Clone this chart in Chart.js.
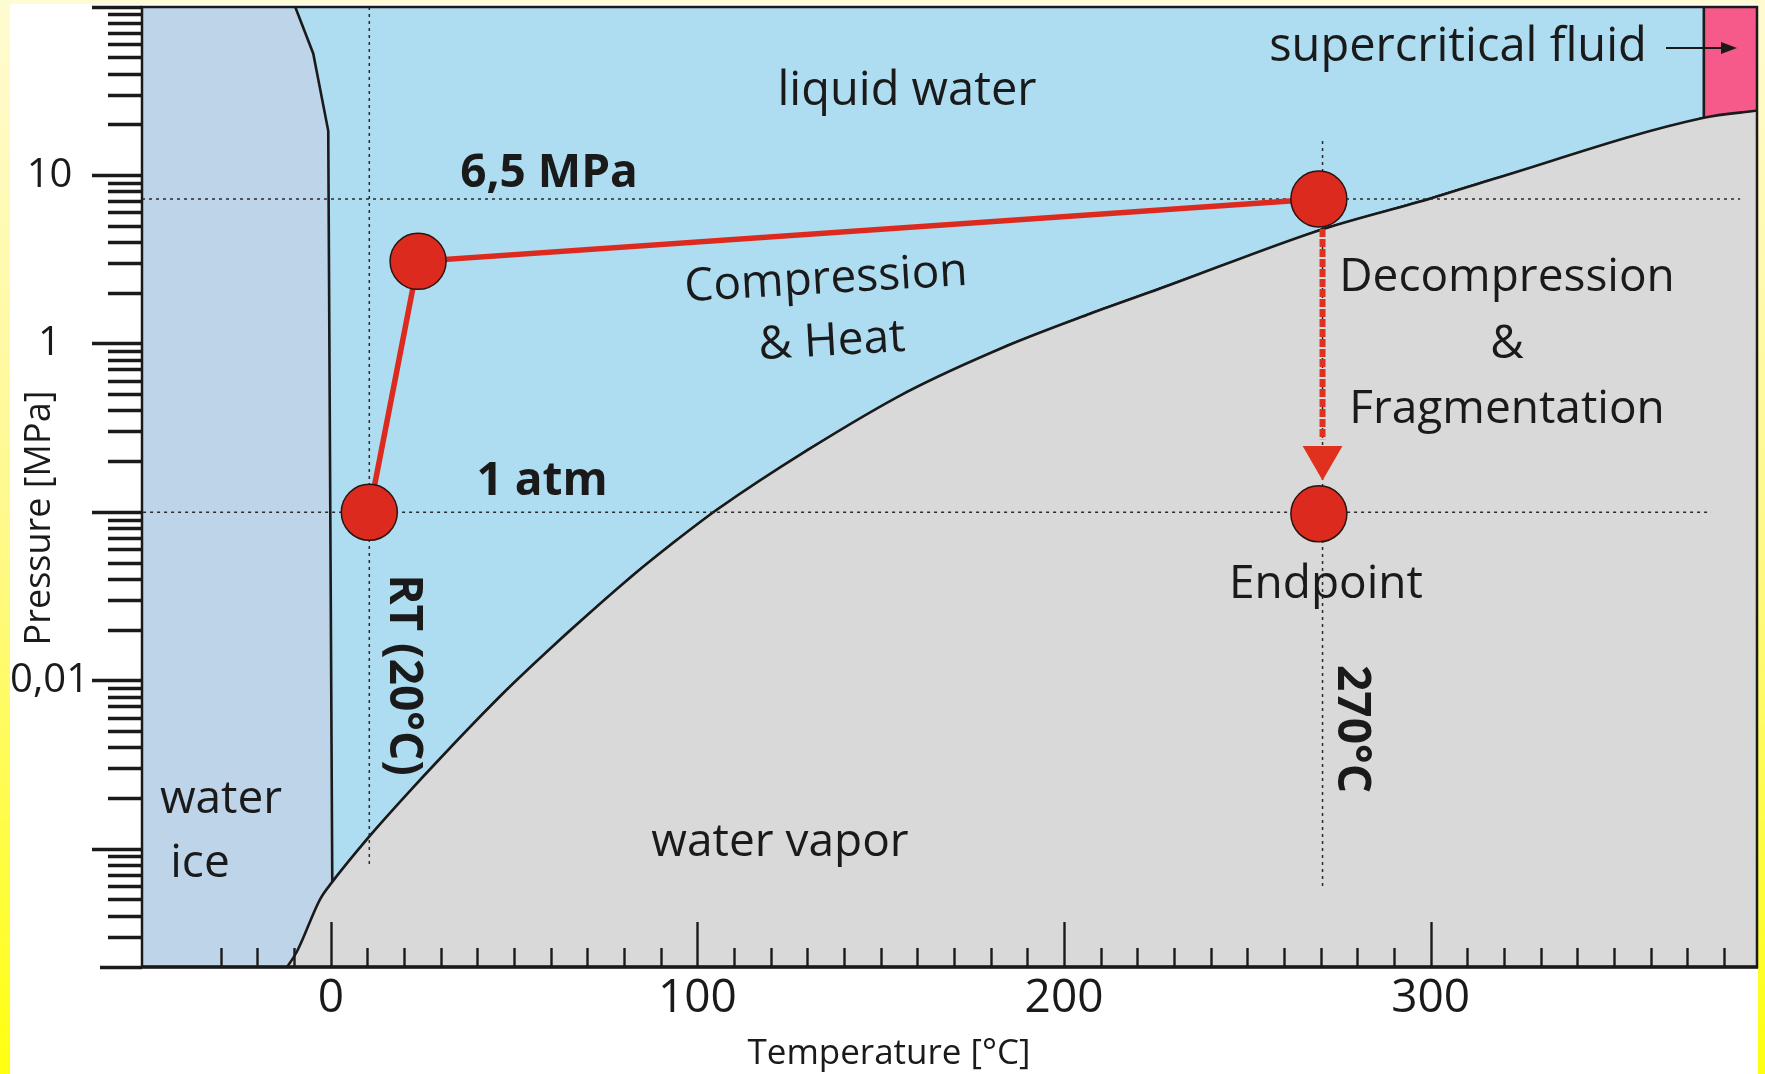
<!DOCTYPE html>
<html>
<head>
<meta charset="utf-8">
<title>Water phase diagram</title>
<script src="https://cdn.jsdelivr.net/npm/chart.js@4.4.1/dist/chart.umd.min.js"></script>
<style>
  html, body { margin: 0; padding: 0; width: 1765px; height: 1074px; overflow: hidden; }
  body { position: relative; background: linear-gradient(to bottom, #fffbd2 0%, #fff98a 50%, #ffff10 100%); }
  #paper { position: absolute; left: 10px; top: 4px; right: 7px; bottom: 0; background: #fff; }
  #box { position: absolute; left: 0; top: 0; width: 1765px; height: 1074px; }
</style>
</head>
<body>
<div id="paper"></div>
<div id="box"><canvas id="phaseChart"></canvas></div>
<script>
// axis ranges
const tempRange = [-51.5, 389];
const pressRange = [0.0002, 100];

// phase boundaries (temperature in °C, pressure in MPa)
const meltTemp = [-9.7, -4.8, -0.7];
const meltPress = [100, 53, 18.4];
const sublTemp = [-12.6, -9.2, -2.9];
const sublPress = [0.00019, 0.000248, 0.000506];
const boilTemp = [0.4, 9.9, 25.2, 46.2, 64.5, 82.5, 93.4, 105.4, 130, 157.2, 184.5, 207.1, 226.2, 270.5, 300, 315.6, 374.5];
const boilPress = [0.00064, 0.00115, 0.0027, 0.0081, 0.0192, 0.0425, 0.066, 0.104, 0.234, 0.519, 0.975, 1.51, 2.13, 4.8, 7.3, 9.3, 22];
const superTemp = [374.5, 389.1];
const superPress = [22, 24.3];

// experiment path
const pathTemp = [10.5, 23.8, 269.5];
const pathPress = [0.1, 3.09, 7.25];
const endTemp = [269.5];
const endPress = [0.098];
const dropTemp = [270.5, 270.5];
const dropPress = [7.25, 0.272];
const tipTemp = [270.5];
const tipPress = [0.212];

// dotted guide lines
const mpaTemp = [-51.5, 384.4];
const mpaPress = [7.25, 7.25];
const atmTemp = [-51.2, 376.5];
const atmPress = [0.1, 0.1];
const rtTemp = [10.5, 10.5];
const rtPress = [100, 0.00081];
const endLineTemp = [270.5, 270.5];
const endLinePress = [16, 0.00059];

// ticks
const tempTicks = [];
for (let t = -30; t <= 380; t += 10) tempTicks.push(t);
const tempLabels = [0, 100, 200, 300];
const pressMantissas = [1, 2, 3, 4, 5, 6, 7, 8, 9];
const pressDecades = [-4, -3, -2, -1, 0, 1, 2];
const pressTicks = [];
pressDecades.forEach(e => pressMantissas.forEach(m => {
  const v = Number((m * Math.pow(10, e)).toPrecision(4));
  if (v >= pressRange[0] && v <= pressRange[1]) pressTicks.push(v);
}));
const pressLabelValues = [10, 1, 0.01];
const pressLabelTexts = ['10', '1', '0,01'];

const pts = (xs, ys) => xs.map((x, i) => ({ x: x, y: ys[i] }));
const isDecade = v => Math.abs(Math.log10(v) - Math.round(Math.log10(v))) < 1e-6;

const INK = '#1a1a1a';
const RED = '#dc2b1e';

function curve(data, extra) {
  return Object.assign({ data: data, showLine: true, pointRadius: 0, borderWidth: 0, fill: false, tension: 0 }, extra);
}
function guide(data) {
  return curve(data, { order: 5, borderColor: '#2a2a2a', borderWidth: 1.5, borderDash: [3, 4] });
}

function text(ctx, str, x, y, size, bold, rotate) {
  ctx.save();
  ctx.translate(x, y);
  if (rotate) ctx.rotate(rotate * Math.PI / 180);
  ctx.font = (bold ? 'bold ' : '') + size + 'px "Open Sans"';
  ctx.textAlign = 'center';
  ctx.textBaseline = 'middle';
  ctx.fillStyle = INK;
  ctx.fillText(str, 0, 0);
  ctx.restore();
}

const phaseDecor = {
  id: 'phaseDecor',
  beforeDatasetsDraw(chart) {
    const { ctx, chartArea: a } = chart;
    ctx.save();
    ctx.fillStyle = '#bed4e8';   // water ice
    ctx.fillRect(a.left, a.top, a.right - a.left, a.bottom - a.top);
    ctx.restore();
  },
  afterDatasetsDraw(chart) {
    const { ctx, chartArea: a, scales } = chart;
    ctx.save();
    // temperature ticks point up into the plot
    ctx.strokeStyle = INK;
    ctx.lineWidth = 2.4;
    scales.x.ticks.forEach(t => {
      const px = Math.round(scales.x.getPixelForValue(t.value)) + 0.5;
      const len = t.value % 100 === 0 ? 45 : 19;
      ctx.beginPath();
      ctx.moveTo(px, a.bottom);
      ctx.lineTo(px, a.bottom - len);
      ctx.stroke();
    });
    // frame
    ctx.lineWidth = 2.5;
    ctx.strokeRect(a.left, a.top, a.right - a.left, a.bottom - a.top);
    ctx.lineWidth = 3.5;
    ctx.beginPath();
    ctx.moveTo(a.left, a.bottom);
    ctx.lineTo(a.right + 1, a.bottom);
    ctx.stroke();

    // annotations
    text(ctx, 'liquid water', 907, 92, 47);
    text(ctx, 'supercritical fluid', 1458, 48, 47);
    text(ctx, '6,5 MPa', 549, 174, 46, true);
    text(ctx, 'Compression', 826, 280, 46, false, -3.3);
    text(ctx, '& Heat', 832, 342, 46, false, -3.3);
    text(ctx, 'Decompression', 1507, 278, 46);
    text(ctx, '&', 1507, 345, 46);
    text(ctx, 'Fragmentation', 1507, 410, 46);
    text(ctx, '1 atm', 542, 482, 46, true);
    text(ctx, 'Endpoint', 1326, 585, 46);
    text(ctx, 'RT (20°C)', 403, 675, 46, true, 90);
    text(ctx, '270°C', 1351, 729, 46, true, 90);
    text(ctx, 'water', 221, 800, 46);
    text(ctx, 'ice', 200, 864, 46);
    text(ctx, 'water vapor', 780, 843, 46);

    // arrow to the supercritical corner
    ctx.lineWidth = 2;
    ctx.beginPath();
    ctx.moveTo(1666, 48);
    ctx.lineTo(1724, 48);
    ctx.stroke();
    ctx.fillStyle = INK;
    ctx.beginPath();
    ctx.moveTo(1737, 48);
    ctx.lineTo(1721, 42);
    ctx.lineTo(1721, 54);
    ctx.closePath();
    ctx.fill();
    ctx.restore();
  },
  afterDraw(chart) {
    const { ctx } = chart;
    text(ctx, 'Temperature [°C]', 889, 1054, 35);
    text(ctx, 'Pressure [MPa]', 40, 518, 36, false, -90);
  }
};

Chart.defaults.font.family = '"Open Sans", sans-serif';
Chart.defaults.color = INK;

new Chart(document.getElementById('phaseChart'), {
  type: 'scatter',
  data: {
    datasets: [
      curve(pts(superTemp, superPress), { order: 12, fill: 'end', backgroundColor: '#f65a8b' }),
      curve(pts(meltTemp.concat(boilTemp, [superTemp[0]]), meltPress.concat(boilPress, [pressRange[1]])),
        { order: 11, fill: 'end', backgroundColor: '#aedcf1', borderColor: INK, borderWidth: 2.6 }),
      curve(pts(sublTemp.concat(boilTemp, superTemp.slice(1)), sublPress.concat(boilPress, superPress.slice(1))),
        { order: 10, fill: 'start', backgroundColor: '#d9d9d9', borderColor: INK, borderWidth: 2.6,
          cubicInterpolationMode: 'monotone' }),
      guide(pts(mpaTemp, mpaPress)),
      guide(pts(atmTemp, atmPress)),
      guide(pts(rtTemp, rtPress)),
      guide(pts(endLineTemp, endLinePress)),
      curve(pts(dropTemp, dropPress), { order: 4, borderColor: '#e0301e', borderWidth: 6, borderDash: [8, 2] }),
      curve(pts(pathTemp, pathPress), {
        order: 3, borderColor: RED, borderWidth: 5.5,
        pointRadius: 28, pointBackgroundColor: RED, pointBorderColor: '#2a1410', pointBorderWidth: 1.5
      }),
      curve(pts(endTemp, endPress), {
        order: 3, showLine: false,
        pointRadius: 28, pointBackgroundColor: RED, pointBorderColor: '#2a1410', pointBorderWidth: 1.5
      }),
      curve(pts(tipTemp, tipPress), {
        order: 2, showLine: false, pointStyle: 'triangle', pointRotation: 180,
        pointRadius: 23, pointBackgroundColor: '#e0301e', pointBorderWidth: 0
      })
    ]
  },
  options: {
    responsive: true,
    maintainAspectRatio: false,
    animation: false,
    events: [],
    layout: { autoPadding: false, padding: { left: 0, right: 8, top: 7, bottom: 0 } },
    plugins: {
      legend: { display: false },
      tooltip: { enabled: false }
    },
    scales: {
      x: {
        type: 'linear',
        min: tempRange[0],
        max: tempRange[1],
        afterBuildTicks: s => { s.ticks = tempTicks.map(v => ({ value: v })); },
        afterFit: s => { s.height = 107; s.paddingLeft = 0; s.paddingRight = 0; },
        grid: { display: false },
        border: { display: false },
        ticks: {
          autoSkip: false,
          maxRotation: 0,
          padding: -4,
          color: INK,
          font: { size: 46 },
          callback: v => tempLabels.includes(v) ? String(v) : []
        }
      },
      y: {
        type: 'logarithmic',
        min: pressRange[0],
        max: pressRange[1],
        afterBuildTicks: s => { s.ticks = pressTicks.map(v => ({ value: v })); },
        afterFit: s => { s.width = 142; s.paddingTop = 0; s.paddingBottom = 0; },
        grid: {
          display: true,
          drawOnChartArea: false,
          drawTicks: true,
          tickLength: 50,
          tickWidth: 3.5,
          tickColor: INK,
          tickBorderDash: c => {
            if (!c.tick) return [];
            if (isDecade(c.tick.value)) return [];
            return c.index === 0 ? [42, 8] : [34, 16];
          },
          tickBorderDashOffset: c => {
            if (!c.tick || isDecade(c.tick.value)) return 0;
            return c.index === 0 ? 42 : 34;
          }
        },
        border: { display: false },
        ticks: {
          autoSkip: false,
          crossAlign: 'center',
          padding: 3,
          color: INK,
          font: { size: 40 },
          callback: v => {
            const i = pressLabelValues.findIndex(p => Math.abs(p - v) < p * 1e-6);
            return i >= 0 ? pressLabelTexts[i] : [];
          }
        }
      }
    }
  },
  plugins: [phaseDecor]
});
</script>
</body>
</html>
